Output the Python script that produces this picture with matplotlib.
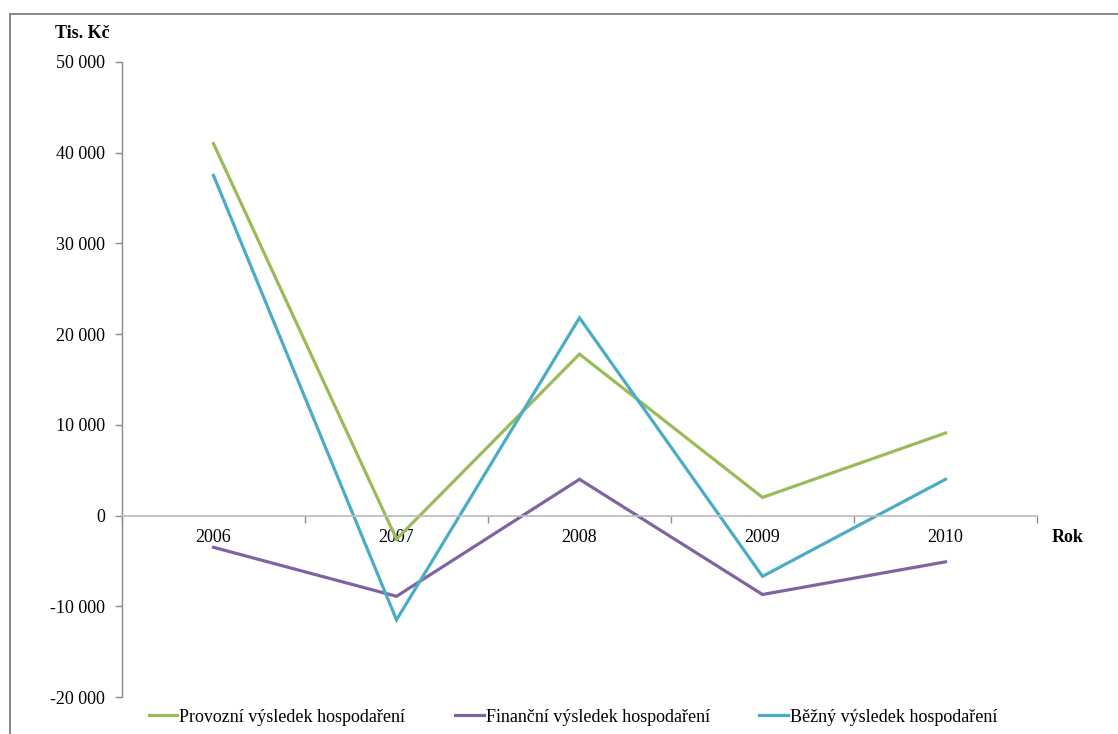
import matplotlib
matplotlib.use("Agg")
import matplotlib.pyplot as plt
from matplotlib.lines import Line2D
from matplotlib.ticker import FuncFormatter, FixedLocator

years = ["2006", "2007", "2008", "2009", "2010"]
provozni = [41000, -2600, 17800, 2000, 9100]
financni = [-3500, -8900, 4000, -8700, -5100]
bezny = [37500, -11500, 21800, -6700, 4000]
series_names = ["Provozní výsledek hospodaření",
                "Finanční výsledek hospodaření",
                "Běžný výsledek hospodaření"]
y_ticks = [-20000, -10000, 0, 10000, 20000, 30000, 40000, 50000]

colors = ["#9BBB59", "#8064A2", "#4BACC6"]
axis_gray = "#8C8C8C"

plt.rcParams["font.family"] = ["Liberation Serif", "DejaVu Serif"]

W, H = 1118, 734
fig = plt.figure(figsize=(W / 100, H / 100), dpi=100)
ax = fig.add_axes([122 / W, 1 - 697 / H, (1037 - 122) / W, (697 - 62) / H])

x = list(range(len(years)))
for vals, c, name in zip([provozni, financni, bezny], colors, series_names):
    ax.plot(x, vals, color=c, lw=2.3, label=name, solid_joinstyle="miter")

ax.set_xlim(-0.5, len(years) - 0.5)
ax.set_ylim(-20000, 50000)

# Spines: vertical value axis on the left, category axis through zero
for s in ["top", "right"]:
    ax.spines[s].set_visible(False)
ax.spines["left"].set_color(axis_gray)
ax.spines["left"].set_linewidth(1.0)
ax.spines["bottom"].set_position(("data", 0))
ax.spines["bottom"].set_color("#BFBFBF")
ax.spines["bottom"].set_linewidth(1.3)

ax.yaxis.set_major_locator(FixedLocator(y_ticks))
ax.yaxis.set_major_formatter(
    FuncFormatter(lambda v, p: f"{int(v):,}".replace(",", " ")))
ax.tick_params(axis="y", direction="out", length=5, width=1.0,
               color=axis_gray, labelsize=13, pad=7)

# Category boundary ticks (major) and centred labels (minor)
ax.xaxis.set_major_locator(FixedLocator([i - 0.5 for i in range(len(years) + 1)]))
ax.xaxis.set_major_formatter(FuncFormatter(lambda v, p: ""))
ax.xaxis.set_minor_locator(FixedLocator(x))
ax.set_xticklabels(years, minor=True)
ax.tick_params(axis="x", which="major", direction="out", length=5,
               width=1.0, color=axis_gray)
ax.tick_params(axis="x", which="minor", length=0, labelsize=13, pad=10)

fig.text(82 / W, 1 - 33 / H, "Tis. Kč", fontsize=13, fontweight="bold",
         ha="center", va="center")
fig.text(1068 / W, 1 - 538 / H, "Rok", fontsize=13, fontweight="bold",
         ha="center", va="center")

handles, labels = ax.get_legend_handles_labels()
fig.legend(handles, labels, loc="center", bbox_to_anchor=(573 / W, 1 - 717 / H),
           ncol=3, frameon=False, fontsize=13, handlelength=1.6,
           handletextpad=0.1, columnspacing=2.75, borderaxespad=0)

# Outer chart-area frame
fig.add_artist(Line2D([9.5 / W, 9.5 / W], [0, 1 - 13.5 / H],
                      transform=fig.transFigure, color="#878787", lw=1.4))
fig.add_artist(Line2D([9.5 / W, 1], [1 - 13.5 / H, 1 - 13.5 / H],
                      transform=fig.transFigure, color="#878787", lw=1.4))

fig.savefig("out.png", dpi=100)
